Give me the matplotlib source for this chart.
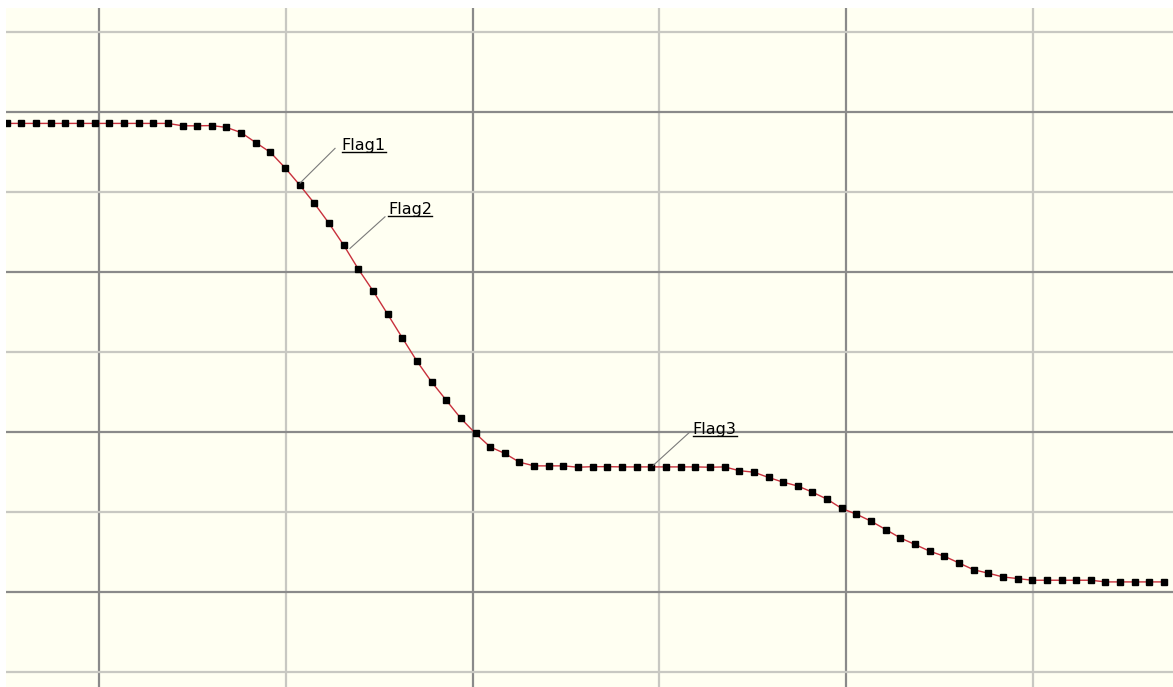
import numpy as np
import matplotlib
matplotlib.use("Agg")
import matplotlib.pyplot as plt

# sampled curve, one value per sample (grid units)
samples = np.arange(80)
level = [3.857, 3.857, 3.857, 3.857, 3.857, 3.857, 3.857, 3.857, 3.857, 3.857,
         3.857, 3.857, 3.827, 3.827, 3.830, 3.807, 3.742, 3.617, 3.495, 3.302,
         3.086, 2.857, 2.607, 2.335, 2.035, 1.764, 1.472, 1.176, 0.884, 0.625,
         0.396, 0.168, -0.020, -0.188, -0.270, -0.379, -0.425, -0.425, -0.425, -0.442,
         -0.435, -0.435, -0.438, -0.438, -0.438, -0.438, -0.438, -0.438, -0.442, -0.438,
         -0.485, -0.504, -0.570, -0.629, -0.677, -0.754, -0.842, -0.958, -1.029, -1.117,
         -1.221, -1.326, -1.408, -1.492, -1.555, -1.639, -1.724, -1.767, -1.814, -1.834,
         -1.855, -1.855, -1.855, -1.855, -1.855, -1.876, -1.876, -1.876, -1.876, -1.876]

# flags: label, anchor on curve, end of leader line, label position
flag_names = ["Flag1", "Flag2", "Flag3"]
flag_anchor = [(20.02, 3.111), (23.43, 2.294), (44.14, -0.417)]
flag_end = [(22.41, 3.545), (25.82, 2.689), (46.64, 0.0)]
flag_text = [(22.87, 3.58), (26.05, 2.78), (46.83, 0.035)]

fig = plt.figure(figsize=(11.73, 6.87), dpi=100, facecolor="white")
ax = fig.add_axes([6 / 1173, 0, 1167 / 1173, 679 / 687])
ax.set_facecolor("#fffff2")

# grid: dark and light lines alternate
for x in [6.3, 31.8, 57.32]:
    ax.axvline(x, color="#8a8a8a", lw=1.6, zorder=1)
for x in [19.07, 44.53, 70.07]:
    ax.axvline(x, color="#c8c8c2", lw=1.6, zorder=1)
for y in [4, 2, 0, -2]:
    ax.axhline(y, color="#8a8a8a", lw=1.6, zorder=1)
for y in [5, 3, 1, -1, -3]:
    ax.axhline(y, color="#c8c8c2", lw=1.6, zorder=1)

ax.plot(samples, level, color="#c8303c", lw=1.0, zorder=3)
ax.plot(samples, level, ls="none", marker="s", ms=3.7, color="black", zorder=4)

texts = []
for name, (ax_, ay), (ex, ey), (tx, ty) in zip(flag_names, flag_anchor, flag_end, flag_text):
    ax.plot([ax_, ex], [ay, ey], color="#7a7a7a", lw=0.8, zorder=5)
    t = ax.text(tx, ty, name, fontsize=11.5, family="DejaVu Sans",
                va="center", ha="left", color="black", zorder=6)
    texts.append(t)

ax.set_xlim(-0.05, 79.61)
ax.set_ylim(-3.19, 5.30)
ax.set_xticks([])
ax.set_yticks([])
for s in ax.spines.values():
    s.set_visible(False)

# underline the flag labels
fig.canvas.draw()
inv = ax.transData.inverted()
for t in texts:
    bb = t.get_window_extent()
    (x0, y0), (x1, _) = inv.transform([(bb.x0, bb.y0 + 1), (bb.x1, bb.y0 + 1)])
    ax.plot([x0, x1], [y0, y0], color="black", lw=1.0, zorder=6)

fig.savefig("out.png", dpi=100, facecolor="white")
